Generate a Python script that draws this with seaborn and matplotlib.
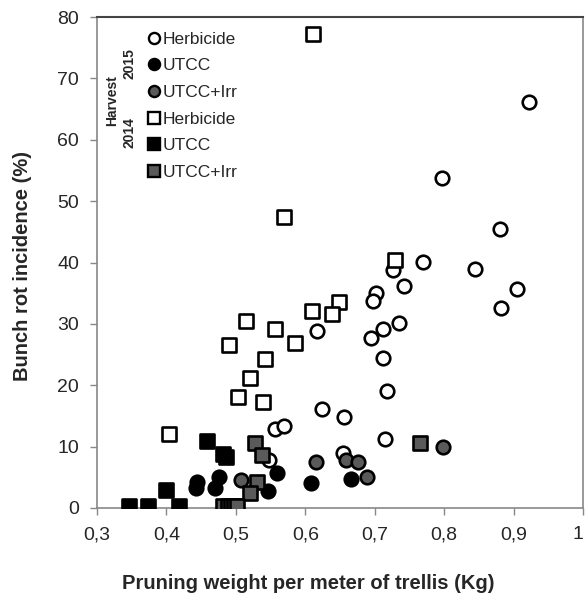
import numpy as np
import pandas as pd
import matplotlib
matplotlib.use('Agg')
import matplotlib.pyplot as plt
from matplotlib.lines import Line2D
from matplotlib.ticker import MultipleLocator
import seaborn as sns

# Harvest 2015 (circles)
herb15_x = [0.922, 0.797, 0.881, 0.726, 0.770, 0.845, 0.742, 0.905, 0.882, 0.702, 0.697,
            0.617, 0.712, 0.735, 0.695, 0.712, 0.718, 0.624, 0.656, 0.557, 0.569, 0.715,
            0.655, 0.548]
herb15_y = [66.2, 53.8, 45.5, 38.8, 40.1, 38.9, 36.2, 35.7, 32.6, 35.0, 33.7,
            28.8, 29.2, 30.1, 27.7, 24.4, 19.0, 16.1, 14.8, 12.8, 13.3, 11.2,
            9.0, 7.9]
utcc15_x = [0.559, 0.444, 0.443, 0.476, 0.470, 0.546, 0.608, 0.666]
utcc15_y = [5.7, 4.3, 3.3, 5.1, 3.3, 2.8, 4.1, 4.7]
irr15_x = [0.507, 0.616, 0.659, 0.676, 0.689, 0.799]
irr15_y = [4.5, 7.5, 7.8, 7.5, 5.0, 10.0]

# Harvest 2014 (squares)
herb14_x = [0.611, 0.569, 0.729, 0.610, 0.649, 0.638, 0.515, 0.557, 0.490, 0.585,
            0.542, 0.521, 0.503, 0.539, 0.404]
herb14_y = [77.2, 47.4, 40.4, 32.1, 33.6, 31.6, 30.5, 29.2, 26.6, 26.9,
            24.3, 21.2, 18.1, 17.3, 12.0]
utcc14_x = [0.458, 0.482, 0.486, 0.399, 0.346, 0.374, 0.418]
utcc14_y = [10.9, 8.8, 8.3, 2.9, 0.3, 0.3, 0.3]
irr14_x = [0.528, 0.538, 0.530, 0.520, 0.765, 0.482, 0.488, 0.493, 0.498, 0.502]
irr14_y = [10.6, 8.6, 4.3, 2.4, 10.6, 0.3, 0.3, 0.3, 0.3, 0.3]

labels = ['Herbicide', 'UTCC', 'UTCC+Irr', 'Herbicide', 'UTCC', 'UTCC+Irr']
x_ticks = [0.3, 0.4, 0.5, 0.6, 0.7, 0.8, 0.9, 1.0]
x_tick_labels = ['0,3', '0,4', '0,5', '0,6', '0,7', '0,8', '0,9', '1']

grey = '#5a5a5a'
groups = [
    ('2015 Herbicide', herb15_x, herb15_y, 'o', 'white'),
    ('2015 UTCC', utcc15_x, utcc15_y, 'o', 'black'),
    ('2015 UTCC+Irr', irr15_x, irr15_y, 'o', grey),
    ('2014 Herbicide', herb14_x, herb14_y, 's', 'white'),
    ('2014 UTCC', utcc14_x, utcc14_y, 's', 'black'),
    ('2014 UTCC+Irr', irr14_x, irr14_y, 's', grey),
]

sns.set_style('white')
plt.rcParams['font.family'] = ['Liberation Sans', 'DejaVu Sans']

fig = plt.figure(figsize=(5.85, 5.95), dpi=100)
ax = fig.add_axes([97 / 585, 87 / 595, 486 / 585, 491 / 595])

for name, xs, ys, marker, fc in groups:
    df = pd.DataFrame({'x': xs, 'y': ys})
    sns.scatterplot(data=df, x='x', y='y', marker=marker, color=fc,
                    edgecolor='black', linewidth=1.9,
                    s=95 if marker == 'o' else 110, ax=ax, legend=False, zorder=3)

ax.set_xlim(0.3, 1.0)
ax.set_ylim(0, 80)
ax.set_xticks(x_ticks, x_tick_labels)
ax.yaxis.set_major_locator(MultipleLocator(10))
ax.tick_params(axis='both', direction='out', length=5, width=1, color='#888888',
               labelsize=14, bottom=True, left=True)
ax.tick_params(axis='x', pad=8)
ax.tick_params(axis='y', pad=8)
# keep the last x tick label inside the figure
ax.get_xticklabels()[-1].set_horizontalalignment('right')
for side in ['left', 'bottom', 'right']:
    ax.spines[side].set_color('#888888')
    ax.spines[side].set_linewidth(1.2)
ax.spines['top'].set_color('#444444')
ax.spines['top'].set_linewidth(1.5)

ax.set_xlabel('Pruning weight per meter of trellis (Kg)', fontsize=14.5,
              fontweight='bold', va='center')
ax.set_ylabel('Bunch rot incidence (%)', fontsize=14.5, fontweight='bold', va='center')
ax.xaxis.set_label_coords(0.434, -0.153)
ax.yaxis.set_label_coords(-0.154, 0.493)

handles = [Line2D([], [], linestyle='none', marker=m, markerfacecolor=fc,
                  markeredgecolor='black', markeredgewidth=1.7, markersize=8)
           for _, _, _, m, fc in groups]
ax.legend(handles, labels, loc='upper left', bbox_to_anchor=(0.105, 0.97),
          frameon=False, fontsize=12.5, handlelength=0.7, handletextpad=0.15,
          labelspacing=0.66, borderpad=0, borderaxespad=0)

ax.text(0.031, 0.83, 'Harvest', transform=ax.transAxes, rotation=90,
        ha='center', va='center', fontsize=10, fontweight='bold')
ax.text(0.066, 0.906, '2015', transform=ax.transAxes, rotation=90,
        ha='center', va='center', fontsize=10, fontweight='bold')
ax.text(0.066, 0.765, '2014', transform=ax.transAxes, rotation=90,
        ha='center', va='center', fontsize=10, fontweight='bold')

fig.savefig('out.png', dpi=100)
